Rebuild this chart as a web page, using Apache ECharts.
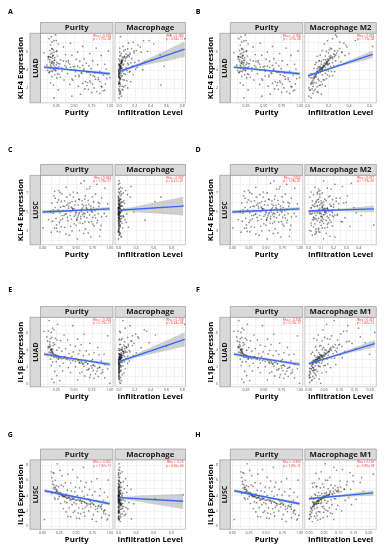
<!DOCTYPE html>
<html><head><meta charset="utf-8">
<script src="https://cdn.jsdelivr.net/npm/echarts@6/dist/echarts.min.js"></script>
<style>html,body{margin:0;padding:0;background:#fff}#c{width:386px;height:550px}</style>
</head><body><div id="c"></div><script>
// ---------------- DATA ----------------
const klf4LuadY = [7.63,7.18,6.92,7.41,6.57,6.83,7.04,6.38,6.51,7.82,
6.21,5.94,6.12,5.68,6.03,5.79,6.29,5.61,6.08,5.87,
5.52,5.23,5.41,5.02,5.34,5.58,5.11,5.44,5.17,5.49,
4.93,4.71,4.98,4.82,4.63,4.88,4.74,4.79,4.96,4.61,
4.52,4.33,4.44,4.21,4.57,4.38,4.27,4.49,4.24,4.41,
4.13,3.92,4.04,3.83,4.17,3.98,3.88,4.09,3.81,4.01,
3.72,3.51,3.63,3.32,3.77,3.43,3.58,3.47,3.69,3.38,
3.24,2.93,3.12,2.81,3.03,3.28,2.72,3.16,2.88,2.98,
2.63,2.34,2.52,2.14,2.41,2.03,2.58,2.22,2.47,2.29,
1.92,1.63,1.81,1.34,1.72,1.12,1.53,0.93,1.87,1.42,
5.12,4.63,3.87,4.28,5.46,3.56,4.92,4.07,3.21,5.73,
4.45,3.68,5.27,4.16,2.87,4.74,3.95,5.61,4.36,3.42,
6.34,4.58,3.79,5.03,2.61,4.22,5.38,3.14,4.84,6.72,
3.93,5.19,4.47,2.45,4.01,5.84,3.61,4.69,1.78,4.31,
5.08,3.83,4.52,6.07,3.27,4.94,2.19,5.42,4.12,3.72,
4.66,5.56,3.48,4.26,7.21,3.05,4.81,5.94,2.73,4.39];
const klf4LuadPurity = [0.18,0.22,0.45,0.15,0.62,0.28,0.19,0.81,0.35,0.24,
0.21,0.55,0.16,0.38,0.25,0.72,0.19,0.47,0.98,0.08,
0.27,0.64,0.17,0.42,0.23,0.88,0.31,0.14,0.53,0.20,
0.58,0.19,0.76,0.26,0.44,0.16,0.67,0.22,0.35,0.93,
0.12,0.49,0.71,0.21,0.83,0.18,0.39,0.62,0.27,0.55,
0.74,0.24,0.51,0.86,0.17,0.63,0.33,0.95,0.20,0.45,
0.68,0.29,0.79,0.52,0.15,0.91,0.41,0.23,0.60,0.77,
0.57,0.84,0.26,0.72,0.47,0.19,0.66,1.00,0.36,0.80,
0.73,0.21,0.62,0.89,0.44,0.78,0.17,0.56,0.94,0.68,
0.65,0.82,0.28,0.59,0.91,0.47,0.75,0.22,0.70,0.86,
0.16,0.21,0.18,0.24,0.14,0.27,0.19,0.23,0.31,0.17,
0.22,0.15,0.20,0.26,0.48,0.18,0.13,0.21,0.29,0.57,
0.19,0.25,0.16,0.22,0.69,0.33,0.18,0.84,0.20,0.17,
0.24,0.14,0.37,0.76,0.21,0.19,0.61,0.28,0.93,0.45,
0.23,0.52,0.17,0.26,0.79,0.39,0.88,0.15,0.64,0.71,
0.30,0.20,0.73,0.58,0.25,0.96,0.42,0.22,0.86,0.51];
const klf4LuadMacrophage = [0.02,0.31,0.12,0.83,0.05,0.44,0.18,0.01,0.27,0.65,
0.08,0.01,0.22,0.14,0.36,0.03,0.11,0.52,0.06,0.19,
0.01,0.16,0.04,0.25,0.09,0.02,0.41,0.13,0.00,0.07,
0.03,0.11,0.01,0.20,0.06,0.33,0.02,0.15,0.08,0.00,
0.05,0.01,0.17,0.04,0.12,0.02,0.23,0.00,0.09,0.57,
0.02,0.10,0.00,0.14,0.03,0.07,0.01,0.21,0.05,0.30,
0.01,0.08,0.03,0.00,0.13,0.02,0.06,0.18,0.01,0.04,
0.00,0.05,0.02,0.10,0.01,0.03,0.15,0.00,0.07,0.02,
0.01,0.53,0.00,0.06,0.02,0.11,0.01,0.04,0.00,0.08,
0.00,0.02,0.05,0.01,0.00,0.03,0.01,0.00,0.04,0.02,
0.03,0.00,0.01,0.02,0.07,0.00,0.04,0.01,0.00,0.09,
0.02,0.01,0.05,0.00,0.01,0.03,0.00,0.12,0.02,0.00,
0.16,0.01,0.00,0.04,0.00,0.02,0.06,0.01,0.03,0.24,
0.00,0.08,0.02,0.00,0.01,0.14,0.00,0.03,0.01,0.02,
0.05,0.00,0.01,0.19,0.00,0.04,0.01,0.10,0.02,0.00,
0.03,0.11,0.00,0.02,0.38,0.01,0.04,0.28,0.00,0.01];
const klf4LuadM2 = [0.28,0.19,0.35,0.24,0.63,0.16,0.31,0.22,0.38,0.27,
0.21,0.33,0.14,0.26,0.18,0.40,0.23,0.12,0.29,0.20,
0.17,0.24,0.30,0.11,0.22,0.36,0.15,0.26,0.19,0.09,
0.13,0.21,0.27,0.08,0.18,0.32,0.16,0.24,0.11,0.20,
0.19,0.10,0.25,0.14,0.07,0.22,0.17,0.29,0.12,0.15,
0.09,0.18,0.13,0.23,0.06,0.16,0.20,0.11,0.26,0.14,
0.12,0.05,0.17,0.21,0.09,0.14,0.03,0.19,0.10,0.24,
0.08,0.15,0.04,0.11,0.18,0.07,0.13,0.02,0.16,0.10,
0.06,0.12,0.03,0.09,0.14,0.01,0.08,0.17,0.05,0.11,
0.04,0.09,0.02,0.13,0.06,0.01,0.10,0.03,0.07,0.05,
0.17,0.13,0.09,0.15,0.21,0.08,0.19,0.12,0.06,0.25,
0.16,0.10,0.22,0.14,0.05,0.18,0.11,0.27,0.15,0.07,
0.31,0.17,0.09,0.20,0.04,0.13,0.23,0.06,0.18,0.37,
0.12,0.21,0.16,0.03,0.14,0.28,0.08,0.19,0.02,0.11,
0.20,0.10,0.15,0.26,0.07,0.18,0.05,0.24,0.13,0.09,
0.17,0.22,0.08,0.14,0.46,0.06,0.19,0.33,0.04,0.12];

const klf4LuscY = [8.31,7.62,7.94,7.28,8.05,7.53,7.12,7.71,7.19,7.44,
6.93,6.61,7.02,6.48,6.84,6.37,6.72,6.89,6.31,6.57,
6.22,6.03,6.14,5.91,6.18,5.82,6.07,5.94,6.11,5.86,
5.73,5.52,5.64,5.41,5.68,5.47,5.59,5.33,5.44,5.61,
5.29,5.12,5.23,5.04,5.31,5.08,5.18,4.93,5.01,5.21,
4.91,4.72,4.83,4.62,4.87,4.68,4.79,4.53,4.64,4.81,
4.52,4.31,4.43,4.22,4.48,4.27,4.39,4.12,4.19,4.36,
4.08,3.91,4.02,3.82,4.11,3.88,3.73,3.97,3.79,3.62,
3.58,3.42,3.51,3.28,3.19,3.47,3.11,3.37,3.02,3.31,
2.92,2.71,2.53,2.84,2.32,2.63,2.14,2.88,2.41,2.97,
5.42,4.88,6.13,5.07,4.36,5.73,4.97,6.46,5.24,3.84,
5.58,4.71,5.16,6.28,4.49,5.33,3.56,5.89,4.93,5.12,
6.71,4.62,5.47,4.17,5.02,5.81,3.27,5.29,4.79,6.02,
4.54,5.37,7.08,4.99,5.63,4.28,5.21,3.95,5.76,4.84,
5.14,6.36,4.67,5.51,2.76,5.06,6.19,4.42,5.39,4.91,
5.68,4.13,5.27,6.58,4.74,5.44,3.71,5.97,4.59,7.47];
const klf4LuscPurity = [0.62,0.35,0.81,0.24,0.57,0.93,0.46,0.71,0.18,0.66,
0.29,0.74,0.52,0.88,0.41,0.63,0.17,0.79,0.55,0.36,
0.68,0.22,0.49,0.85,0.33,0.59,0.76,0.14,0.44,0.97,
0.53,0.27,0.72,0.39,0.61,0.19,0.84,0.47,0.65,0.31,
0.45,0.78,0.23,0.58,0.91,0.36,0.67,0.12,0.50,0.74,
0.26,0.60,0.83,0.41,0.16,0.70,0.54,0.95,0.32,0.63,
0.57,0.20,0.75,0.43,0.88,0.30,0.66,0.51,0.09,0.79,
0.38,0.69,0.15,0.56,0.82,0.25,0.47,0.73,0.60,0.21,
0.50,0.28,0.77,0.18,0.64,0.42,0.86,0.33,0.55,0.01,
0.22,0.61,0.40,0.13,0.72,0.35,0.52,0.26,0.85,0.44,
0.44,0.61,0.28,0.73,0.52,0.36,0.67,0.19,0.58,0.81,
0.33,0.49,0.71,0.24,0.62,0.45,0.87,0.38,0.55,0.12,
0.64,0.29,0.76,0.51,0.42,0.69,0.21,0.58,0.35,0.83,
0.47,0.66,0.26,0.74,0.39,0.57,0.16,0.63,0.48,0.92,
0.31,0.54,0.78,0.43,0.68,0.22,0.59,0.37,0.72,0.50,
0.65,0.27,0.81,0.46,0.34,0.60,0.75,0.41,0.53,0.70];
const klf4LuscMacrophage = [0.01,0.03,0.00,0.12,0.02,0.06,0.00,0.21,0.04,0.01,
0.02,0.00,0.08,0.01,0.15,0.03,0.00,0.05,0.02,0.72,
0.00,0.04,0.01,0.10,0.02,0.00,0.07,0.01,0.62,0.03,
0.01,0.00,0.05,0.02,1.10,0.00,0.03,0.09,0.01,0.04,
0.00,0.02,0.11,0.01,0.00,0.06,0.03,0.00,0.26,0.01,
0.03,0.00,0.01,0.08,0.02,0.00,0.14,0.04,0.01,0.00,
0.02,0.05,0.00,0.01,0.09,0.03,0.00,0.45,0.02,0.01,
0.00,0.01,0.04,0.00,0.02,0.13,0.01,0.00,0.06,0.03,
0.01,0.00,0.02,0.07,0.00,0.03,0.01,0.17,0.00,0.02,
0.00,0.03,0.01,0.00,0.05,0.02,0.00,0.01,0.04,0.00,
0.00,0.02,0.01,0.04,0.00,0.01,0.03,0.00,0.06,0.01,
0.02,0.00,0.01,0.00,0.08,0.03,0.00,0.02,0.01,0.00,
0.04,0.01,0.00,0.11,0.02,0.00,0.01,0.03,0.00,0.05,
0.01,0.00,0.02,0.00,0.07,0.01,0.00,0.03,0.02,0.00,
0.00,0.04,0.01,0.00,0.02,0.00,0.09,0.01,0.00,0.03,
0.02,0.00,0.01,0.20,0.00,0.02,0.01,0.00,0.04,0.01];
const klf4LuscM2 = [0.12,0.05,0.21,0.09,0.34,0.15,0.02,0.27,0.08,0.18,
0.07,0.16,0.11,0.25,0.04,0.13,0.31,0.09,0.19,0.01,
0.14,0.06,0.22,0.10,0.03,0.17,0.08,0.28,0.12,0.05,
0.09,0.20,0.04,0.15,0.11,0.36,0.07,0.13,0.02,0.18,
0.11,0.03,0.16,0.08,0.24,0.06,0.12,0.19,0.01,0.14,
0.05,0.13,0.09,0.42,0.07,0.17,0.02,0.11,0.23,0.10,
0.15,0.08,0.04,0.12,0.20,0.06,0.29,0.10,0.03,0.16,
0.07,0.18,0.11,0.02,0.14,0.09,0.05,0.26,0.12,0.52,
0.10,0.04,0.19,0.13,0.06,0.33,0.08,0.15,0.01,0.11,
0.06,0.14,0.03,0.09,0.21,0.05,0.12,0.08,0.17,0.02,
0.09,0.14,0.06,0.18,0.11,0.03,0.13,0.22,0.08,0.16,
0.05,0.12,0.19,0.07,0.10,0.15,0.02,0.24,0.09,0.13,
0.17,0.06,0.11,0.04,0.14,0.20,0.08,0.12,0.01,0.30,
0.10,0.15,0.07,0.13,0.18,0.05,0.09,0.27,0.12,0.03,
0.14,0.08,0.21,0.11,0.06,0.16,0.10,0.04,0.13,0.38,
0.07,0.17,0.12,0.09,0.23,0.02,0.15,0.11,0.19,0.08];

const il1bLuadY = [7.52,6.43,6.91,6.12,7.08,5.93,6.62,5.81,6.24,5.72,
5.53,5.21,5.42,5.03,5.33,4.91,5.14,5.38,4.83,5.22,
4.72,4.51,4.63,4.32,4.68,4.43,4.22,4.57,4.34,4.48,
4.12,3.93,4.02,3.81,4.08,3.72,3.88,3.98,3.79,3.63,
3.52,3.41,3.58,3.32,3.47,3.21,3.38,3.12,3.27,3.54,
3.03,3.18,2.92,3.08,2.83,2.97,2.73,3.11,2.88,2.78,
2.62,2.51,2.68,2.42,2.57,2.33,2.48,2.23,2.39,2.64,
2.12,2.02,2.18,1.92,2.07,1.83,1.97,1.72,2.21,1.88,
1.62,1.51,1.68,1.42,1.33,1.58,1.22,1.47,1.13,1.38,
1.02,0.82,0.93,0.62,0.98,0.43,0.71,0.22,0.52,0.12,
3.42,2.87,4.15,3.08,2.41,3.73,2.96,4.46,3.24,1.84,
3.57,2.69,3.16,4.28,2.49,3.35,1.56,3.89,2.93,3.12,
4.71,2.62,3.47,2.17,3.02,3.81,1.27,3.29,2.79,4.02,
2.54,3.37,5.08,2.99,3.63,2.28,3.21,1.95,3.76,2.84,
3.14,4.36,2.67,3.51,0.76,3.06,4.19,2.42,3.39,2.91,
3.68,2.13,3.27,5.58,2.74,3.44,1.71,3.97,2.59,6.27];
const il1bLuadPurity = [0.15,0.22,0.48,0.18,0.27,0.64,0.20,0.36,0.08,0.97,
0.19,0.41,0.24,0.16,0.55,0.21,0.31,0.17,0.72,0.26,
0.23,0.17,0.45,0.29,0.60,0.14,0.38,0.21,0.83,0.52,
0.20,0.67,0.26,0.49,0.18,0.78,0.33,0.58,0.15,0.43,
0.71,0.24,0.56,0.19,0.85,0.37,0.63,0.28,0.47,0.92,
0.53,0.22,0.76,0.40,0.66,0.17,0.88,0.31,0.59,0.74,
0.81,0.45,0.25,0.69,0.57,0.93,0.35,0.77,0.62,0.20,
0.64,0.86,0.30,0.75,0.52,0.97,0.42,0.70,0.18,0.83,
0.77,0.23,0.68,0.90,0.58,0.34,0.80,0.61,0.73,0.45,
0.26,0.72,0.84,0.19,0.65,0.30,0.78,0.22,0.55,1.00,
0.21,0.44,0.17,0.36,0.63,0.19,0.28,0.15,0.24,0.71,
0.18,0.52,0.26,0.14,0.58,0.22,0.82,0.19,0.41,0.29,
0.16,0.67,0.23,0.74,0.33,0.20,0.88,0.27,0.48,0.18,
0.61,0.25,0.13,0.39,0.21,0.77,0.31,0.85,0.17,0.55,
0.35,0.16,0.60,0.22,0.93,0.46,0.19,0.69,0.26,0.50,
0.20,0.79,0.37,0.12,0.57,0.24,0.90,0.18,0.65,0.14];
const il1bLuadMacrophage = [0.05,0.32,0.14,0.02,0.83,0.21,0.08,0.46,0.01,0.17,
0.11,0.03,0.25,0.07,0.01,0.38,0.15,0.04,0.19,0.00,
0.02,0.12,0.06,0.28,0.01,0.09,0.00,0.17,0.04,0.60,
0.03,0.08,0.00,0.14,0.02,0.22,0.05,0.01,0.10,0.00,
0.01,0.06,0.00,0.11,0.03,0.00,0.18,0.02,0.07,0.01,
0.00,0.04,0.02,0.09,0.01,0.00,0.13,0.03,0.00,0.05,
0.02,0.00,0.07,0.01,0.04,0.00,0.11,0.02,0.00,0.03,
0.00,0.01,0.05,0.00,0.03,0.08,0.01,0.00,0.02,0.00,
0.01,0.00,0.03,0.00,0.06,0.02,0.00,0.01,0.04,0.00,
0.00,0.02,0.00,0.01,0.00,0.03,0.00,0.01,0.00,0.02,
0.01,0.00,0.04,0.02,0.00,0.03,0.01,0.07,0.00,0.00,
0.02,0.00,0.01,0.09,0.00,0.03,0.00,0.05,0.01,0.02,
0.12,0.00,0.02,0.00,0.01,0.06,0.00,0.03,0.00,0.04,
0.00,0.01,0.16,0.02,0.05,0.00,0.01,0.00,0.08,0.02,
0.03,0.10,0.00,0.02,0.00,0.01,0.07,0.00,0.04,0.01,
0.06,0.00,0.02,0.24,0.01,0.03,0.00,0.13,0.00,0.35];
const il1bLuadM1 = [0.083,0.046,0.127,0.215,0.058,0.104,0.162,0.031,0.113,0.074,
0.052,0.094,0.017,0.123,0.069,0.184,0.043,0.061,0.141,0.027,
0.064,0.035,0.097,0.048,0.086,0.022,0.153,0.039,0.072,0.108,
0.044,0.067,0.026,0.091,0.053,0.033,0.118,0.057,0.012,0.079,
0.036,0.063,0.008,0.051,0.102,0.041,0.019,0.073,0.028,0.198,
0.047,0.024,0.038,0.084,0.014,0.059,0.032,0.109,0.021,0.045,
0.018,0.042,0.011,0.062,0.034,0.088,0.025,0.054,0.006,0.029,
0.033,0.013,0.049,0.016,0.037,0.009,0.071,0.023,0.031,0.003,
0.012,0.028,0.019,0.004,0.043,0.015,0.021,0.057,0.002,0.017,
0.024,0.005,0.013,0.034,0.001,0.009,0.018,0.003,0.011,0.039,
0.042,0.023,0.068,0.036,0.014,0.051,0.027,0.078,0.044,0.007,
0.055,0.018,0.032,0.093,0.012,0.047,0.004,0.064,0.026,0.035,
0.101,0.015,0.053,0.021,0.029,0.066,0.006,0.041,0.017,0.073,
0.025,0.038,0.131,0.033,0.056,0.011,0.045,0.014,0.062,0.027,
0.031,0.082,0.019,0.048,0.002,0.036,0.071,0.013,0.043,0.022,
0.058,0.009,0.034,0.168,0.024,0.039,0.016,0.087,0.021,0.124];

const il1bLuscY = [8.18,7.42,6.93,7.71,6.62,7.13,6.41,6.82,6.23,7.32,
6.02,5.71,5.92,5.53,5.83,5.41,5.62,6.04,5.32,5.74,
5.22,5.01,5.13,4.82,5.18,4.91,4.72,5.03,4.84,5.11,
4.62,4.41,4.53,4.32,4.58,4.22,4.43,4.51,4.28,4.12,
4.02,3.91,4.08,3.82,3.98,3.72,3.93,3.61,3.83,4.04,
3.52,3.41,3.58,3.32,3.47,3.22,3.38,3.12,3.28,3.53,
3.02,2.91,3.08,2.82,2.98,2.72,2.93,2.62,2.83,3.04,
2.52,2.41,2.58,2.32,2.48,2.22,2.43,2.12,2.28,2.02,
1.92,1.81,2.01,1.72,1.62,1.88,1.52,1.83,1.42,1.73,
1.32,1.12,1.23,0.92,1.03,0.82,1.28,0.62,1.08,0.88,
3.94,3.31,4.58,3.62,2.86,4.21,3.47,5.06,3.78,2.34,
4.09,3.17,3.71,4.87,2.98,3.86,1.96,4.43,3.39,3.67,
5.42,3.08,4.02,2.61,3.54,4.34,1.58,3.82,3.23,4.63,
2.91,3.89,5.87,3.44,4.16,2.73,3.71,2.27,4.27,3.29,
3.59,5.13,3.02,4.06,0.96,3.51,4.78,2.79,3.97,3.36,
4.21,2.52,3.75,6.37,3.14,3.92,2.09,4.49,2.96,7.03];
const il1bLuscPurity = [0.22,0.45,0.17,0.61,0.29,0.13,0.52,0.38,0.81,0.26,
0.19,0.34,0.57,0.15,0.73,0.28,0.42,0.98,0.21,0.65,
0.31,0.16,0.49,0.70,0.24,0.86,0.37,0.55,0.18,0.63,
0.43,0.27,0.78,0.20,0.59,0.35,0.92,0.48,0.14,0.67,
0.52,0.25,0.74,0.39,0.85,0.18,0.62,0.46,0.97,0.30,
0.69,0.41,0.23,0.80,0.56,0.33,0.91,0.47,0.71,0.19,
0.58,0.76,0.36,0.88,0.27,0.66,0.50,0.83,0.44,0.95,
0.72,0.54,0.87,0.31,0.64,0.79,0.40,0.93,0.60,0.48,
0.82,0.46,0.69,0.91,0.57,0.35,0.76,0.62,0.99,0.53,
0.63,0.88,0.42,0.74,0.55,0.96,0.38,0.80,0.51,0.03,
0.32,0.55,0.21,0.47,0.71,0.26,0.43,0.18,0.39,0.82,
0.28,0.62,0.36,0.20,0.66,0.31,0.91,0.24,0.51,0.37,
0.17,0.74,0.29,0.79,0.45,0.25,0.94,0.34,0.58,0.22,
0.68,0.33,0.15,0.49,0.27,0.84,0.40,0.88,0.23,0.60,
0.42,0.19,0.65,0.30,0.97,0.53,0.21,0.76,0.35,0.57,
0.26,0.86,0.44,0.14,0.63,0.30,0.92,0.20,0.72,0.16];
const il1bLuscMacrophage = [0.01,0.00,0.03,0.02,0.00,0.06,0.01,0.00,0.12,0.02,
0.00,0.04,0.01,0.00,0.08,0.02,0.00,0.01,0.15,0.03,
0.02,0.00,0.05,0.01,0.00,0.10,0.03,0.00,0.21,0.01,
0.00,0.03,0.01,0.07,0.00,0.02,0.14,0.00,0.04,1.10,
0.01,0.00,0.06,0.02,0.00,0.09,0.01,0.62,0.03,0.00,
0.04,0.00,0.01,0.11,0.02,0.00,0.05,0.18,0.00,0.02,
0.00,0.03,0.01,0.00,0.07,0.02,0.26,0.00,0.04,0.01,
0.02,0.00,0.09,0.01,0.00,0.03,0.13,0.00,0.05,0.01,
0.00,0.02,0.01,0.00,0.06,0.00,0.03,0.01,0.10,0.00,
0.01,0.00,0.04,0.00,0.02,0.01,0.00,0.03,0.00,0.01,
0.00,0.02,0.01,0.00,0.04,0.01,0.00,0.03,0.00,0.07,
0.01,0.00,0.02,0.00,0.05,0.01,0.09,0.00,0.02,0.00,
0.01,0.03,0.00,0.06,0.00,0.02,0.12,0.00,0.01,0.04,
0.02,0.00,0.01,0.08,0.00,0.03,0.01,0.16,0.00,0.02,
0.00,0.01,0.04,0.00,0.22,0.02,0.00,0.05,0.01,0.00,
0.03,0.00,0.01,0.02,0.00,0.06,0.00,0.01,0.03,0.00];
const il1bLuscM1 = [0.054,0.112,0.023,0.083,0.147,0.041,0.069,0.215,0.034,0.092,
0.062,0.018,0.104,0.045,0.128,0.073,0.011,0.056,0.087,0.171,
0.027,0.081,0.049,0.118,0.024,0.064,0.098,0.038,0.139,0.013,
0.071,0.032,0.094,0.052,0.182,0.019,0.058,0.107,0.043,0.079,
0.037,0.101,0.022,0.061,0.029,0.133,0.047,0.084,0.008,0.067,
0.016,0.053,0.089,0.031,0.074,0.012,0.121,0.042,0.063,0.158,
0.059,0.026,0.014,0.077,0.039,0.096,0.021,0.048,0.142,0.033,
0.044,0.068,0.017,0.051,0.006,0.091,0.028,0.057,0.019,0.109,
0.031,0.009,0.063,0.024,0.079,0.036,0.003,0.049,0.027,0.072,
0.018,0.047,0.007,0.038,0.002,0.029,0.061,0.011,0.022,0.083,
0.048,0.029,0.082,0.037,0.016,0.058,0.033,0.097,0.052,0.009,
0.064,0.021,0.043,0.118,0.027,0.054,0.004,0.071,0.032,0.046,
0.126,0.018,0.059,0.012,0.039,0.084,0.005,0.051,0.026,0.093,
0.023,0.056,0.148,0.041,0.067,0.015,0.049,0.008,0.078,0.034,
0.043,0.106,0.031,0.062,0.001,0.038,0.088,0.019,0.053,0.028,
0.069,0.013,0.044,0.176,0.026,0.057,0.011,0.099,0.017,0.137];

// panel labels
const panelLetters = ['A','B','C','D','E','F','G','H'];
const panelGene = ['KLF4','KLF4','KLF4','KLF4','IL1β','IL1β','IL1β','IL1β'];
const panelCancer = ['LUAD','LUAD','LUSC','LUSC','LUAD','LUAD','LUSC','LUSC'];
const panelImmune = ['Macrophage','Macrophage M2','Macrophage','Macrophage M2','Macrophage','Macrophage M1','Macrophage','Macrophage M1'];
const panelY = [klf4LuadY,klf4LuadY,klf4LuscY,klf4LuscY,il1bLuadY,il1bLuadY,il1bLuscY,il1bLuscY];
const panelPurity = [klf4LuadPurity,klf4LuadPurity,klf4LuscPurity,klf4LuscPurity,il1bLuadPurity,il1bLuadPurity,il1bLuscPurity,il1bLuscPurity];
const panelImmuneX = [klf4LuadMacrophage,klf4LuadM2,klf4LuscMacrophage,klf4LuscM2,il1bLuadMacrophage,il1bLuadM1,il1bLuscMacrophage,il1bLuscM1];

// statistics
const purityRho = ['-0.166','-0.166','0.062','0.062','-0.258','-0.258','-0.302','-0.302'];
const purityP = ['1.70e-08','1.70e-08','1.78e-01','1.78e-01','5.19e-17','5.19e-17','1.37e-11','1.37e-11'];
const immuneRho = ['0.280','0.253','0.037','0.071','0.209','0.327','-0.16','0.125'];
const immuneP = ['3.54e-11','1.15e-08','4.21e-01','1.19e-01','6.24e-06','1.60e-13','4.45e-04','5.95e-03'];

// axes
const yRange = [[0.4,8.0],[0.4,8.0],[1.5,8.9],[1.5,8.9],[-0.3,7.9],[-0.3,7.9],[-0.4,8.7],[-0.4,8.7]];
const yTicks = [[2,4,6],[2,4,6],[3,5,7],[3,5,7],[0,2,4,6],[0,2,4,6],[0,2,4,6,8],[0,2,4,6,8]];
const purityXRange = [[0.03,1.045],[0.03,1.045],[-0.03,1.05],[-0.03,1.05],[0.03,1.045],[0.03,1.045],[-0.03,1.05],[-0.03,1.05]];
const purityTicks = [0,0.25,0.5,0.75,1.0];
const immuneXRange = [[-0.05,0.84],[-0.03,0.665],[-0.06,1.14],[-0.03,0.54],[-0.05,0.84],[-0.013,0.22],[-0.06,1.14],[-0.014,0.225]];
const immuneTicks = [[0,0.2,0.4,0.6,0.8],[0,0.2,0.4,0.6],[0,0.3,0.6,0.9],[0,0.1,0.2,0.3,0.4],[0,0.2,0.4,0.6,0.8],[0,0.05,0.1,0.15,0.2],[0,0.3,0.6,0.9],[0,0.05,0.1,0.15,0.2]];
const immuneDecimals = [1,1,1,1,1,2,1,2];

// fitted lines and confidence bands
const purityFit = [[[0.08,4.30],[1.0,3.57]],[[0.08,4.30],[1.0,3.57]],[[0.0,5.0],[1.0,5.33]],[[0.0,5.0],[1.0,5.33]],[[0.08,3.55],[1.0,2.35]],[[0.08,3.55],[1.0,2.35]],[[0.03,4.65],[1.0,2.95]],[[0.03,4.65],[1.0,2.95]]];
const purityBandX = [[0.08,0.5,1.0],[0.08,0.5,1.0],[0,0.5,1.0],[0,0.5,1.0],[0.08,0.5,1.0],[0.08,0.5,1.0],[0.03,0.5,1.0],[0.03,0.5,1.0]];
const purityBandLo = [[4.12,3.88,3.38],[4.12,3.88,3.38],[4.80,5.07,5.13],[4.80,5.07,5.13],[3.33,2.90,2.13],[3.33,2.90,2.13],[4.42,3.73,2.73],[4.42,3.73,2.73]];
const purityBandHi = [[4.48,4.06,3.76],[4.48,4.06,3.76],[5.20,5.26,5.53],[5.20,5.26,5.53],[3.77,3.10,2.57],[3.77,3.10,2.57],[4.88,3.93,3.17],[4.88,3.93,3.17]];
const immuneFit = [[[0,3.82],[0.83,6.26]],[[0,3.35],[0.63,5.70]],[[0,5.18],[1.1,5.62]],[[0,5.10],[0.52,5.33]],[[0,2.67],[0.83,5.30]],[[0,2.43],[0.215,4.80]],[[0,3.75],[1.1,3.27]],[[0,3.60],[0.215,4.37]]];
const immuneBandX = [[0,0.2,0.4,0.6,0.83],[0,0.15,0.3,0.45,0.63],[0,0.2,0.4,0.7,1.1],[0,0.1,0.25,0.4,0.52],[0,0.2,0.4,0.6,0.83],[0,0.05,0.1,0.15,0.215],[0,0.2,0.4,0.7,1.1],[0,0.05,0.1,0.15,0.215]];
const immuneBandLo = [[3.70,4.26,4.65,4.98,5.41],[3.15,3.81,4.35,4.78,5.28],[5.10,5.06,4.94,4.81,4.62],[4.95,5.05,5.09,5.03,4.98],[2.55,3.10,3.54,3.97,4.45],[2.28,2.88,3.38,3.83,4.38],[3.65,3.41,3.13,2.74,2.27],[3.45,3.68,3.82,3.90,4.02]];
const immuneBandHi = [[3.94,4.56,5.35,6.18,7.11],[3.55,4.01,4.59,5.28,6.12],[5.26,5.46,5.74,6.11,6.62],[5.25,5.23,5.33,5.53,5.68],[2.79,3.50,4.34,5.17,6.15],[2.58,3.08,3.68,4.33,5.22],[3.85,3.91,4.03,4.14,4.27],[3.75,3.88,4.10,4.38,4.72]];

// ---------------- LAYOUT ----------------
const colLayout = [
  {purLeft:40.5, purWidth:72.5, immLeft:115, immWidth:70.5, stripLeft:30, titleX:20.5, letterX:10.3},
  {purLeft:230.3, purWidth:72.5, immLeft:304.8, immWidth:71.5, stripLeft:219.8, titleX:210.5, letterX:198}
];
const rowTop = [33.3, 175.3, 317.3, 459.8];
const letterY = [12, 150, 290, 435];
const plotH = 69.5, stripH = 10.8;
const FONT = 'Open Sans';

function gridValues(ticks, range) {
  const step = (ticks[1] - ticks[0]) / 2;
  const out = [];
  for (let k = Math.ceil(range[0] / step - 1e-9); k * step <= range[1] + 1e-9; k++) out.push(+(k * step).toFixed(6));
  return out;
}

const grids = [], xAxes = [], yAxes = [], series = [], elements = [];
function addText(obj) { elements.push(Object.assign({type:'text', z:50, silent:true}, obj)); }

for (let p = 0; p < 8; p++) {
  const col = p % 2, row = Math.floor(p / 2);
  const L = colLayout[col], top = rowTop[row];
  const facets = [
    {left:L.purLeft, width:L.purWidth, xs:panelPurity[p], xr:purityXRange[p], xt:purityTicks, dec:2,
     fit:purityFit[p], bx:purityBandX[p], lo:purityBandLo[p], hi:purityBandHi[p], title:'Purity', xname:'Purity', rho:purityRho[p], pv:purityP[p]},
    {left:L.immLeft, width:L.immWidth, xs:panelImmuneX[p], xr:immuneXRange[p], xt:immuneTicks[p], dec:immuneDecimals[p],
     fit:immuneFit[p], bx:immuneBandX[p], lo:immuneBandLo[p], hi:immuneBandHi[p], title:panelImmune[p], xname:'Infiltration Level', rho:immuneRho[p], pv:immuneP[p]}
  ];
  facets.forEach((f, fi) => {
    const gi = grids.length;
    grids.push({left:f.left, top:top, width:f.width, height:plotH, show:true, backgroundColor:'#ffffff', borderColor:'#a6a6a6', borderWidth:0.6});
    xAxes.push({type:'value', gridIndex:gi, min:f.xr[0], max:f.xr[1],
      axisLine:{show:false}, axisTick:{show:false, customValues:gridValues(f.xt, f.xr)},
      axisLabel:{customValues:f.xt, formatter:(v)=>v.toFixed(f.dec), fontSize:3.6, color:'#4d4d4d', margin:1.6, fontFamily:FONT},
      splitLine:{show:true, lineStyle:{color:'#e6e6e6', width:0.5}}});
    yAxes.push({type:'value', gridIndex:gi, min:yRange[p][0], max:yRange[p][1], offset: fi === 0 ? 11 : 0,
      axisLine:{show:false}, axisTick:{show:false, customValues:gridValues(yTicks[p], yRange[p])},
      axisLabel:{show: fi === 0, customValues:yTicks[p], fontSize:3.6, color:'#4d4d4d', margin:1.2, fontFamily:FONT},
      splitLine:{show:true, lineStyle:{color:'#e6e6e6', width:0.5}}});
    const ys = panelY[p];
    series.push({type:'scatter', xAxisIndex:gi, yAxisIndex:gi, silent:true, z:2,
      data:f.xs.map((x,i)=>[x, ys[i]]), symbol:'circle', symbolSize:1.7,
      itemStyle:{color:'rgba(25,25,25,0.62)'}});
    const bx = f.bx, lo = f.lo, hi = f.hi;
    series.push({type:'custom', xAxisIndex:gi, yAxisIndex:gi, silent:true, z:3,
      data:[[bx[0], lo[0]]],
      renderItem:(params, api) => {
        const pts = [];
        for (let i = 0; i < bx.length; i++) pts.push(api.coord([bx[i], hi[i]]));
        for (let i = bx.length - 1; i >= 0; i--) pts.push(api.coord([bx[i], lo[i]]));
        return {type:'polygon', shape:{points:pts}, style:{fill:'rgba(150,150,150,0.45)'}};
      }});
    series.push({type:'line', xAxisIndex:gi, yAxisIndex:gi, silent:true, z:4, data:f.fit,
      showSymbol:false, lineStyle:{color:'#3366ff', width:1.4}});
    // strip header
    elements.push({type:'rect', z:40, silent:true, shape:{x:f.left, y:top - stripH, width:f.width, height:stripH},
      style:{fill:'#d9d9d9', stroke:'#8a8a8a', lineWidth:0.6}});
    addText({x:f.left + f.width/2, y:top - stripH/2 + 0.3, style:{text:f.title, align:'center', verticalAlign:'middle', fontSize:7.8, fontWeight:'bold', fontFamily:FONT, fill:'#1a1a1a'}});
    // stats
    addText({x:f.left + f.width - 2, y:top + 2.8, style:{text:'Rho = ' + f.rho, align:'right', verticalAlign:'middle', fontSize:3.1, fontFamily:FONT, fill:'#ff2020'}});
    addText({x:f.left + f.width - 2, y:top + 6.2, style:{text:'p = ' + f.pv, align:'right', verticalAlign:'middle', fontSize:3.1, fontFamily:FONT, fill:'#ff2020'}});
    // x title
    addText({x:f.left + f.width/2, y:top + plotH + 10.2, style:{text:f.xname, align:'center', verticalAlign:'middle', fontSize:7.8, fontWeight:'bold', fontFamily:FONT, fill:'#000'}});
  });
  // left strip
  elements.push({type:'rect', z:40, silent:true, shape:{x:L.stripLeft, y:top, width:L.purLeft - L.stripLeft, height:plotH},
    style:{fill:'#d9d9d9', stroke:'#8a8a8a', lineWidth:0.6}});
  addText({x:(L.stripLeft + L.purLeft)/2 + 0.3, y:top + plotH/2, rotation:Math.PI/2,
    style:{text:panelCancer[p], align:'center', verticalAlign:'middle', fontSize:7, fontWeight:'bold', fontFamily:FONT, fill:'#1a1a1a'}});
  // y title
  addText({x:L.titleX, y:top + plotH/2, rotation:Math.PI/2,
    style:{text:panelGene[p] + ' Expression', align:'center', verticalAlign:'middle', fontSize:7.8, fontWeight:'bold', fontFamily:FONT, fill:'#000'}});
  // letter
  addText({x:L.letterX, y:letterY[row], style:{text:panelLetters[p], align:'center', verticalAlign:'middle', fontSize:7, fontWeight:'bold', fontFamily:FONT, fill:'#000'}});
}

const chart = echarts.init(document.getElementById('c'), null, {renderer:'canvas'});
chart.setOption({
  animation:false,
  backgroundColor:'#ffffff',
  grid:grids, xAxis:xAxes, yAxis:yAxes, series:series,
  graphic:{elements:elements}
});
</script></body></html>
